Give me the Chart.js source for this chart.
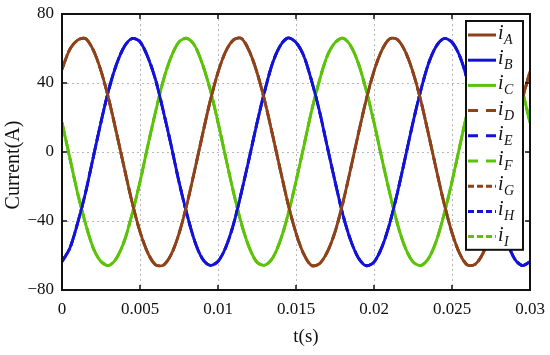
<!DOCTYPE html>
<html>
<head>
<meta charset="utf-8">
<script src="https://cdn.jsdelivr.net/npm/chart.js@4.4.0/dist/chart.umd.min.js"></script>
<style>
html, body { margin: 0; padding: 0; background: #fff; }
#wrap { width: 550px; height: 355px; }
</style>
</head>
<body>
<div id="wrap"><canvas id="currentChart" width="550" height="355"></canvas></div>
<script>
// sample times (s)
var timeSteps = [0, 0.0005, 0.001, 0.0015, 0.002, 0.0025, 0.003, 0.0035, 0.004, 0.0045,
    0.005, 0.0055, 0.006, 0.0065, 0.007, 0.0075, 0.008, 0.0085, 0.009, 0.0095,
    0.01, 0.0105, 0.011, 0.0115, 0.012, 0.0125, 0.013, 0.0135, 0.014, 0.0145,
    0.015, 0.0155, 0.016, 0.0165, 0.017, 0.0175, 0.018, 0.0185, 0.019, 0.0195,
    0.02, 0.0205, 0.021, 0.0215, 0.022, 0.0225, 0.023, 0.0235, 0.024, 0.0245,
    0.025, 0.0255, 0.026, 0.0265, 0.027, 0.0275, 0.028, 0.0285, 0.029, 0.0295, 0.03];

// phase currents (A)
var currentA = [48, 59.5, 64.8, 65.8, 59.2, 47.0, 30.5, 10.8, -9.6, -29.4,
    -46.2, -58.5, -65.4, -65.6, -59.4, -47.3, -30.6, -10.8, 9.8, 29.6,
    46.2, 58.4, 65.0, 65.9, 58.6, 46.1, 29.4, 9.8, -10.6, -30.4,
    -47.0, -59.2, -65.8, -64.8, -58.1, -46.4, -29.6, -9.9, 10.7, 30.3,
    46.9, 58.9, 65.6, 65.2, 58.3, 46.2, 29.8, 10.1, -10.4, -30.1,
    -46.8, -59.0, -65.6, -65.0, -58.5, -46.5, -29.9, -10.0, 10.5, 30.2, 46.8];
var currentB = [-63.5, -55.8, -41.2, -23.9, -3.2, 17.4, 36.2, 51.0, 61.2, 65.8,
    63.9, 55.1, 41.8, 23.5, 3.7, -17.3, -35.7, -51.5, -61.9, -65.7,
    -63.4, -55.2, -41.7, -23.4, -3.6, 16.8, 35.6, 51.6, 61.8, 66.1,
    63.5, 55.7, 41.2, 23.9, 3.3, -17.0, -36.1, -51.1, -61.4, -65.9,
    -63.8, -55.3, -41.6, -23.6, -3.4, 17.2, 35.8, 51.4, 61.5, 65.8,
    63.6, 55.5, 41.4, 23.8, 3.5, -17.2, -36.0, -51.2, -61.7, -65.8, -63.6];
var currentC = [17.0, -3.4, -23.8, -41.3, -55.6, -63.5, -65.8, -61.4, -51.5, -35.7,
    -17.3, 3.6, 23.5, 41.7, 55.2, 63.8, 65.9, 61.8, 51.0, 36.1,
    17.2, -3.5, -23.6, -41.5, -55.3, -63.9, -65.6, -61.5, -51.2, -35.9,
    -17.0, 3.3, 23.9, 41.4, 55.6, 63.4, 66.0, 61.6, 51.3, 35.8,
    17.1, -3.6, -23.5, -41.6, -55.4, -63.7, -65.8, -61.6, -51.4, -35.8,
    -17.1, 3.5, 23.7, 41.5, 55.4, 63.6, 65.9, 61.7, 51.2, 35.9, 17.0];

// the D..I currents lie exactly on top of A..C
var seriesValues = [currentA, currentB, currentC, currentA, currentB, currentC, currentA, currentB, currentC];
var seriesSubs = ['A', 'B', 'C', 'D', 'E', 'F', 'G', 'H', 'I'];
var seriesColors = ['#8e421a', '#1212d8', '#5cc20a', '#8e421a', '#1212d8', '#5cc20a', '#8e421a', '#1212d8', '#5cc20a'];
var seriesDash = [[], [], [], [10, 8], [10, 8], [10, 8], [6, 3], [6, 3], [6, 3]];

var xTickLabels = ['0', '0.005', '0.01', '0.015', '0.02', '0.025', '0.03'];
var yTickLabels = ['\u221280', '\u221240', '0', '40', '80'];

var serif = '"Liberation Serif", "DejaVu Serif", serif';

function toPoints(values) {
    var pts = [];
    for (var i = 0; i < values.length; i++) {
        pts.push({ x: timeSteps[i], y: values[i] });
    }
    return pts;
}

var datasets = [];
for (var i = 0; i < seriesValues.length; i++) {
    datasets.push({
        label: 'i' + seriesSubs[i],
        data: toPoints(seriesValues[i]),
        borderColor: seriesColors[i],
        borderWidth: 2.8,
        borderDash: seriesDash[i],
        pointRadius: 0,
        tension: 0.3,
        fill: false,
        // solid lines on top
        order: i < 3 ? 0 : 1
    });
}

// frame, inward ticks, axis titles and the boxed legend
var decorPlugin = {
    id: 'decor',
    afterDraw: function(chart) {
        var ctx = chart.ctx;
        var area = chart.chartArea;
        var xs = chart.scales.x, ys = chart.scales.y;
        var i;

        ctx.save();
        ctx.strokeStyle = '#111';
        ctx.lineWidth = 2;
        ctx.setLineDash([]);
        ctx.strokeRect(area.left, area.top, area.right - area.left, area.bottom - area.top);

        ctx.lineWidth = 1.5;
        ctx.beginPath();
        for (i = 1; i < xTickLabels.length - 1; i++) {
            var px = xs.getPixelForValue(i * 0.005);
            ctx.moveTo(px, area.bottom); ctx.lineTo(px, area.bottom - 5);
            ctx.moveTo(px, area.top); ctx.lineTo(px, area.top + 5);
        }
        for (i = 1; i < yTickLabels.length - 1; i++) {
            var py = ys.getPixelForValue(-80 + i * 40);
            ctx.moveTo(area.left, py); ctx.lineTo(area.left + 5, py);
            ctx.moveTo(area.right, py); ctx.lineTo(area.right - 5, py);
        }
        ctx.stroke();

        // axis titles
        ctx.fillStyle = '#111';
        ctx.textAlign = 'center';
        ctx.textBaseline = 'middle';
        ctx.font = '19px ' + serif;
        ctx.fillText('t(s)', (area.left + area.right) / 2 + 10, 337);
        ctx.save();
        ctx.translate(14, 165);
        ctx.rotate(-Math.PI / 2);
        ctx.font = '20px ' + serif;
        ctx.fillText('Current(A)', 0, 0);
        ctx.restore();

        // legend
        var boxRight = area.right - 7, boxTop = area.top + 7;
        var boxW = 57, rowH = 25.2;
        var boxH = rowH * seriesSubs.length + 2;
        var boxLeft = boxRight - boxW;
        ctx.fillStyle = '#fff';
        ctx.fillRect(boxLeft, boxTop, boxW, boxH);
        ctx.strokeStyle = '#111';
        ctx.lineWidth = 2;
        ctx.strokeRect(boxLeft, boxTop, boxW, boxH);

        for (i = 0; i < seriesSubs.length; i++) {
            var cy = boxTop + 14 + i * rowH;
            ctx.strokeStyle = seriesColors[i];
            ctx.lineWidth = 3;
            ctx.setLineDash(seriesDash[i]);
            ctx.beginPath();
            ctx.moveTo(boxLeft + 2, cy);
            ctx.lineTo(boxLeft + 30, cy);
            ctx.stroke();
            ctx.setLineDash([]);

            ctx.fillStyle = '#111';
            ctx.textAlign = 'left';
            ctx.textBaseline = 'alphabetic';
            ctx.font = 'italic 20px ' + serif;
            ctx.fillText('i', boxLeft + 32, cy + 4);
            ctx.font = 'italic 14px ' + serif;
            ctx.fillText(seriesSubs[i], boxLeft + 38, cy + 9);
        }
        ctx.restore();
    }
};

var ctx = document.getElementById('currentChart');

var currentChart = new Chart(ctx, {
    type: 'line',
    data: { datasets: datasets },
    options: {
        responsive: false,
        animation: false,
        layout: { padding: { left: 0, top: 14, right: 20, bottom: 0 } },
        plugins: {
            legend: { display: false },
            tooltip: { enabled: false }
        },
        scales: {
            x: {
                type: 'linear',
                min: 0,
                max: 0.03,
                afterFit: function(scale) {
                    scale.height = 65;
                    scale.paddingLeft = 0;
                    scale.paddingRight = 0;
                },
                afterBuildTicks: function(scale) {
                    scale.ticks = xTickLabels.map(function(l, k) { return { value: k * 0.005 }; });
                },
                ticks: {
                    padding: 9,
                    color: '#111',
                    font: { family: serif, size: 17 },
                    callback: function(v, k) { return xTickLabels[k]; }
                },
                grid: { color: '#b8b8b8', lineWidth: 1, drawTicks: false },
                border: { display: false, dash: [2, 3] }
            },
            y: {
                min: -80,
                max: 80,
                afterFit: function(scale) {
                    scale.width = 62;
                    scale.paddingTop = 0;
                    scale.paddingBottom = 0;
                },
                afterBuildTicks: function(scale) {
                    scale.ticks = yTickLabels.map(function(l, k) { return { value: -80 + k * 40 }; });
                },
                ticks: {
                    padding: 8,
                    color: '#111',
                    font: { family: serif, size: 17 },
                    callback: function(v, k) { return yTickLabels[k]; }
                },
                grid: { color: '#b8b8b8', lineWidth: 1, drawTicks: false },
                border: { display: false, dash: [2, 3] }
            }
        }
    },
    plugins: [decorPlugin]
});
</script>
</body>
</html>
